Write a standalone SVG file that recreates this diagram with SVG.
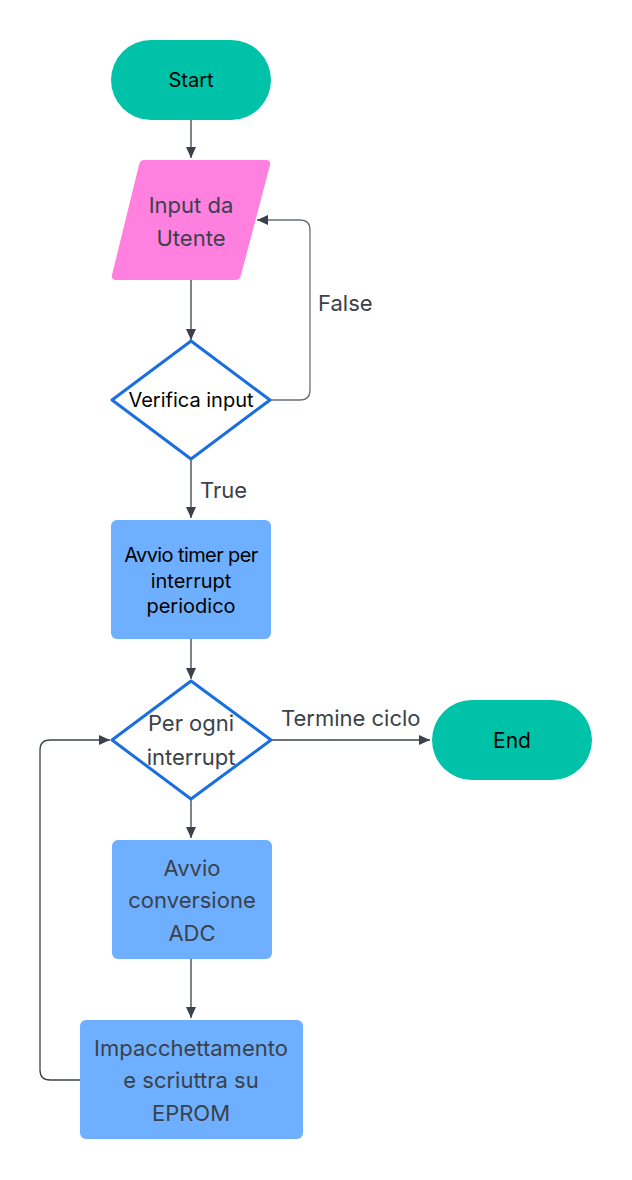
<svg xmlns="http://www.w3.org/2000/svg" width="632" height="1180" viewBox="0 0 632 1180">
<defs>
<marker id="ah" markerWidth="12" markerHeight="12" refX="11" refY="6" orient="auto" markerUnits="userSpaceOnUse">
<path d="M0,1 L11,6 L0,11 Z" fill="#3a414a"/>
</marker>
<style>
.term{fill:#00c2a8}
.proc{fill:#6eb0ff}
.io{fill:#ff80df}
.dec{fill:#fff;stroke:#1a6fe0;stroke-width:3;stroke-linejoin:round}
.t{font-family:Inter,"Noto Sans",sans-serif;text-anchor:middle}
.blk{fill:#000;font-size:20px}
.gr{fill:#3a414a;font-size:22px}
.lbl{fill:#3a414a;font-size:22px;font-family:Inter,"Noto Sans",sans-serif}
.c{fill:none;stroke:#3a414a;stroke-width:1.3}
.cl{fill:none;stroke:#6a707a;stroke-width:1.3}
</style>
</defs>
<rect width="632" height="1180" fill="#fff"/>
<g id="connectors">
<path class="c" d="M191,120 V158" marker-end="url(#ah)"/>
<path class="c" d="M191,280 V340" marker-end="url(#ah)"/>
<path class="cl" d="M270,400 H300 Q310,400 310,390 V230 Q310,220 300,220 H257" marker-end="url(#ah)"/>
<path class="c" d="M191,459 V518" marker-end="url(#ah)"/>
<path class="c" d="M191,639 V679" marker-end="url(#ah)"/>
<path class="c" d="M271,740 H430" marker-end="url(#ah)"/>
<path class="c" d="M191,799 V838" marker-end="url(#ah)"/>
<path class="c" d="M191,959 V1018" marker-end="url(#ah)"/>
<path class="c" d="M80,1080 H50 Q40,1080 40,1070 V750 Q40,740 50,740 H110" marker-end="url(#ah)"/>
<text class="lbl" x="318" y="311">False</text>
<text class="lbl" x="200" y="498">True</text>
<text class="lbl" x="281" y="726">Termine ciclo</text>
</g>
<g id="start">
<rect class="term" x="111" y="40" width="160" height="80" rx="40"/>
<text class="t blk" x="191" y="87">Start</text>
</g>
<g id="input">
<path class="io" d="M144,160 H266 Q271,160 270,165 L241,275 Q240,280 235,280 H116 Q111,280 112,275 L139,165 Q140,160 144,160 Z"/>
<text class="t gr" x="191" y="213">Input da</text>
<text class="t gr" x="191" y="246">Utente</text>
</g>
<g id="verifica">
<path class="dec" d="M191,341 L270,400 L191,459 L112,400 Z"/>
<text class="t blk" x="191" y="407">Verifica input</text>
</g>
<g id="timer">
<rect class="proc" x="111" y="520" width="160" height="119" rx="6"/>
<text class="t blk" x="191" y="562" letter-spacing="-0.6">Avvio timer per</text>
<text class="t blk" x="191" y="588">interrupt</text>
<text class="t blk" x="191" y="613">periodico</text>
</g>
<g id="perogni">
<path class="dec" d="M191,681 L271,740 L191,799 L112,740 Z"/>
<text class="t gr" x="191" y="731">Per ogni</text>
<text class="t gr" x="191" y="765">interrupt</text>
</g>
<g id="end">
<rect class="term" x="432" y="700" width="160" height="80" rx="40"/>
<text class="t blk" x="512" y="748" style="font-size:21px">End</text>
</g>
<g id="adc">
<rect class="proc" x="112" y="840" width="160" height="119" rx="6"/>
<text class="t gr" x="192" y="876">Avvio</text>
<text class="t gr" x="192" y="908">conversione</text>
<text class="t gr" x="192" y="941">ADC</text>
</g>
<g id="eprom">
<rect class="proc" x="80" y="1020" width="223" height="119" rx="6"/>
<text class="t gr" x="191" y="1056">Impacchettamento</text>
<text class="t gr" x="191" y="1088">e scriuttra su</text>
<text class="t gr" x="191" y="1121">EPROM</text>
</g>
</svg>
